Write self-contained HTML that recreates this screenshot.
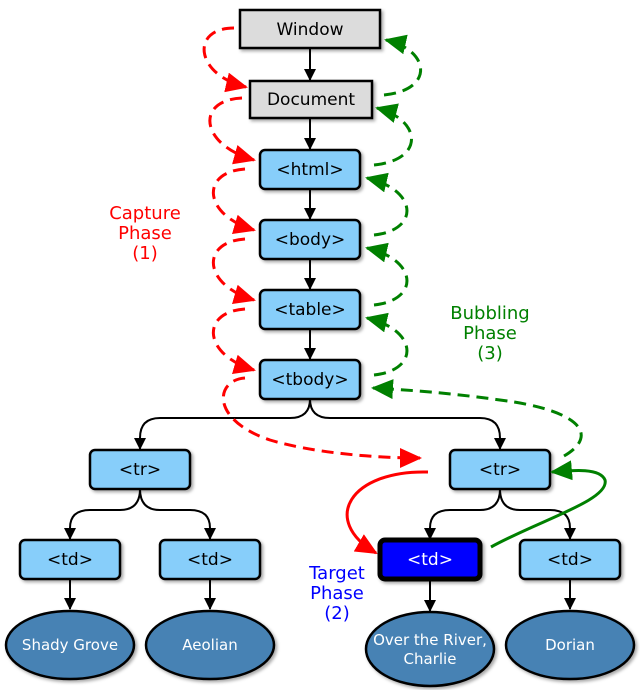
<!DOCTYPE html>
<html><head><meta charset="utf-8"><style>
html,body{margin:0;padding:0;background:#fff;}
svg{display:block;}
text{font-family:"DejaVu Sans","Liberation Sans",sans-serif;}
</style></head><body>
<svg width="640" height="690" viewBox="0 0 640 690" xmlns="http://www.w3.org/2000/svg">
<defs>
<marker id="ab" markerWidth="12" markerHeight="12" refX="11" refY="6" orient="auto" markerUnits="userSpaceOnUse"><path d="M0,0 L12,6 L0,12 z" fill="#000"/></marker>
<marker id="ar" markerWidth="22" markerHeight="20" refX="20" refY="10" orient="auto" markerUnits="userSpaceOnUse"><path d="M0,0 L22,10 L0,20 z" fill="#f00"/></marker>
<marker id="ag" markerWidth="22" markerHeight="20" refX="20" refY="10" orient="auto" markerUnits="userSpaceOnUse"><path d="M0,0 L22,10 L0,20 z" fill="#008000"/></marker>
<filter id="sh" x="-10%" y="-10%" width="130%" height="140%"><feDropShadow dx="2" dy="2" stdDeviation="1.5" flood-opacity="0.35"/></filter>
</defs>

<g stroke="#000" stroke-width="2" fill="none" marker-end="url(#ab)">
<path d="M310 48 V80"/>
<path d="M310 118 V149"/>
<path d="M310 189 V219"/>
<path d="M310 259 V289"/>
<path d="M310 329 V359"/>
<path d="M310 399 Q310 418 290 418 L160 418 Q140 418 140 438 V449"/>
<path d="M310 399 Q310 418 330 418 L480 418 Q500 418 500 438 V449"/>
<path d="M140 489 Q140 510 120 510 L90 510 Q70 510 70 528 V539"/>
<path d="M140 489 Q140 510 160 510 L190 510 Q210 510 210 528 V539"/>
<path d="M500 489 Q500 510 480 510 L450 510 Q430 510 430 528 V539"/>
<path d="M500 489 Q500 510 520 510 L550 510 Q570 510 570 528 V539"/>
<path d="M70 579 V609"/>
<path d="M210 579 V609"/>
<path d="M430 579 V611"/>
<path d="M570 579 V609"/>
</g>

<g stroke="#000" stroke-width="2.5" filter="url(#sh)">
<rect x="240" y="10" width="140" height="38" fill="#dcdcdc"/>
<rect x="250" y="81" width="122" height="37" fill="#dcdcdc"/>
<rect x="260" y="150" width="100" height="39" rx="5" fill="#87cefa"/>
<rect x="260" y="220" width="100" height="39" rx="5" fill="#87cefa"/>
<rect x="260" y="290" width="100" height="39" rx="5" fill="#87cefa"/>
<rect x="260" y="360" width="100" height="39" rx="5" fill="#87cefa"/>
<rect x="90" y="450" width="100" height="39" rx="5" fill="#87cefa"/>
<rect x="450" y="450" width="100" height="39" rx="5" fill="#87cefa"/>
<rect x="20" y="540" width="100" height="39" rx="5" fill="#87cefa"/>
<rect x="160" y="540" width="100" height="39" rx="5" fill="#87cefa"/>
<rect x="380" y="540" width="100" height="39" rx="5" fill="#0000ff" stroke-width="5"/>
<rect x="520" y="540" width="100" height="39" rx="5" fill="#87cefa"/>
<ellipse cx="70" cy="645" rx="64" ry="34" fill="#4682b4"/>
<ellipse cx="210" cy="645" rx="64" ry="34" fill="#4682b4"/>
<ellipse cx="430" cy="649" rx="64" ry="37" fill="#4682b4"/>
<ellipse cx="570" cy="645" rx="64" ry="34" fill="#4682b4"/>
</g>

<g font-size="17" text-anchor="middle" fill="#000">
<text x="310" y="35">Window</text>
<text x="311" y="105">Document</text>
<text x="310" y="175">&lt;html&gt;</text>
<text x="310" y="245">&lt;body&gt;</text>
<text x="310" y="315">&lt;table&gt;</text>
<text x="310" y="385">&lt;tbody&gt;</text>
<text x="140" y="475">&lt;tr&gt;</text>
<text x="500" y="475">&lt;tr&gt;</text>
<text x="70" y="565">&lt;td&gt;</text>
<text x="210" y="565">&lt;td&gt;</text>
<text x="430" y="565" fill="#fff">&lt;td&gt;</text>
<text x="570" y="565">&lt;td&gt;</text>
</g>
<g font-size="15" text-anchor="middle" fill="#fff">
<text x="70" y="650">Shady Grove</text>
<text x="210" y="650">Aeolian</text>
<text x="430" y="645">Over the River,</text>
<text x="430" y="664">Charlie</text>
<text x="570" y="650">Dorian</text>
</g>

<g stroke="#f00" stroke-width="3" fill="none" stroke-dasharray="12,7" marker-end="url(#ar)">
<path d="M234 28 C190 28, 195 75, 246 87"/>
<path d="M242 98 C195 100, 200 145, 254 160"/>
<path d="M245 169 C200 172, 203 215, 254 230"/>
<path d="M245 239 C200 242, 203 285, 254 300"/>
<path d="M245 309 C200 312, 203 355, 254 370"/>
<path d="M245 378 C215 380, 210 420, 270 440 C310 452, 370 458, 420 458"/>
</g>
<g stroke="#008000" stroke-width="3" fill="none" stroke-dasharray="12,7" marker-end="url(#ag)">
<path d="M384 95 C435 90, 430 50, 386 40"/>
<path d="M374 165 C425 160, 422 120, 377 108"/>
<path d="M374 235 C420 230, 418 190, 367 178"/>
<path d="M374 305 C420 300, 418 260, 367 248"/>
<path d="M374 375 C420 370, 418 330, 367 318"/>
<path d="M564 456 C600 435, 580 410, 500 400 C450 393, 410 390, 373 388"/>
</g>
<path d="M428 472 C350 470, 320 520, 376 553" stroke="#f00" stroke-width="3" fill="none" marker-end="url(#ar)"/>
<path d="M491 547 C540 520, 610 500, 605 480 C600 468, 575 470, 552 472" stroke="#008000" stroke-width="3" fill="none" marker-end="url(#ag)"/>

<g font-size="18" text-anchor="middle">
<text x="145" y="219" fill="#f00">Capture</text>
<text x="145" y="239" fill="#f00">Phase</text>
<text x="145" y="259" fill="#f00">(1)</text>
<text x="490" y="319" fill="#008000">Bubbling</text>
<text x="490" y="339" fill="#008000">Phase</text>
<text x="490" y="359" fill="#008000">(3)</text>
<text x="337" y="579" fill="#0000ff">Target</text>
<text x="337" y="599" fill="#0000ff">Phase</text>
<text x="337" y="619" fill="#0000ff">(2)</text>
</g>
</svg>
</body></html>
